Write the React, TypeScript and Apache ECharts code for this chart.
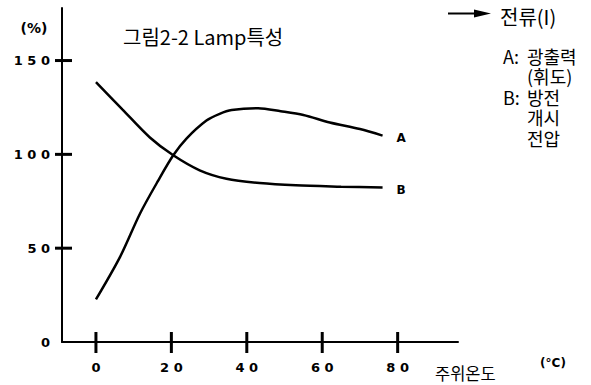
import React, { useEffect, useRef } from "react";
import * as echarts from "echarts";

const xTicks = [0, 20, 40, 60, 80];
const yTicks = [0, 50, 100, 150];
const yTickMarks = [50, 100, 150];

const xA = [0, 6.4, 11.7, 16.5, 20.5, 24, 29.3, 32.8, 36, 43, 49, 55, 62, 70, 76];
const yA = [22.7, 45.4, 68.5, 86, 99.5, 108.4, 118, 121.6, 123.6, 124.6, 123, 121, 117, 113.5, 110];
const xB = [0, 7, 14.3, 20.5, 27.5, 34.6, 43.4, 53, 65, 76];
const yB = [138.5, 124, 109, 99.5, 91.5, 87, 84.7, 83.5, 82.8, 82.3];

const title = "그림2-2 Lamp특성";
const legendPrefix = "A:\n\nB:";
const legendText = "광출력\n(휘도)\n방전\n개시\n전압";
const KR = '"Noto Sans CJK KR", sans-serif';
const NUM = '"DejaVu Sans", sans-serif';
const X_MIN = -9;
const X_MAX = 96;
const Y_MIN = 0;
const Y_MAX = 178;
const GRID = { left: 62, right: 133, top: 8, bottom: 43 };
const W = 591;
const H = 385;

function spaced(v: number) {
  return String(v).split("").join(" ");
}

export default function App() {
  const ref = useRef<HTMLDivElement>(null);
  useEffect(() => {
    if (!ref.current) return;
    const chart = echarts.init(ref.current, undefined, { renderer: "svg" });
    const axisLine = { show: true, onZero: false, lineStyle: { color: "#000", width: 2 } };
    const label = {
      show: true,
      fontFamily: NUM,
      fontWeight: "bold",
      fontSize: 12,
      color: "#000",
      distance: 14,
      offset: [0, 2],
    };
    const kr = (text: string, x: number, y: number, fontSize: number, lineHeight?: number, vAlign = "middle") => ({
      type: "text",
      x,
      y,
      style: {
        text,
        fontFamily: KR,
        fontSize,
        lineHeight: lineHeight || fontSize,
        fill: "#000",
        align: "left",
        verticalAlign: vAlign,
      },
    });

    // crossing tick marks, placed with the same linear mapping the grid uses
    const gw = W - GRID.left - GRID.right;
    const gh = H - GRID.top - GRID.bottom;
    const px = (v: number) => GRID.left + ((v - X_MIN) / (X_MAX - X_MIN)) * gw;
    const py = (v: number) => GRID.top + gh - ((v - Y_MIN) / (Y_MAX - Y_MIN)) * gh;
    const axisY = py(Y_MIN);
    const axisX = px(X_MIN);
    const ticks: any[] = [
      ...xTicks.map((v) => ({
        type: "rect",
        z: 100,
        shape: { x: px(v) - 1.5, y: axisY - 10, width: 3, height: 21 },
        style: { fill: "#000" },
      })),
      ...yTickMarks.map((v) => ({
        type: "rect",
        z: 100,
        shape: { x: axisX - 7, y: py(v) - 1.5, width: 17, height: 3 },
        style: { fill: "#000" },
      })),
    ];

    chart.setOption({
      animation: false,
      backgroundColor: "#fff",
      grid: { ...GRID, containLabel: false },
      xAxis: {
        type: "value",
        min: X_MIN,
        max: X_MAX,
        axisLine,
        splitLine: { show: false },
        axisTick: { show: false },
        axisLabel: {
          customValues: xTicks,
          formatter: (v: number) => spaced(v),
          fontFamily: NUM,
          fontWeight: "bold",
          fontSize: 13,
          color: "#000",
          margin: 19,
        },
      },
      yAxis: {
        type: "value",
        min: Y_MIN,
        max: Y_MAX,
        axisLine,
        splitLine: { show: false },
        axisTick: { show: false },
        axisLabel: {
          customValues: yTicks,
          formatter: (v: number) => spaced(v),
          fontFamily: NUM,
          fontWeight: "bold",
          fontSize: 13,
          color: "#000",
          margin: 12,
        },
      },
      series: [
        {
          type: "line",
          name: "A",
          data: xA.map((x, i) => [x, yA[i]]),
          smooth: 0.3,
          showSymbol: false,
          lineStyle: { color: "#000", width: 2.5 },
          endLabel: { ...label, formatter: "A" },
        },
        {
          type: "line",
          name: "B",
          data: xB.map((x, i) => [x, yB[i]]),
          smooth: 0.3,
          showSymbol: false,
          lineStyle: { color: "#000", width: 2.5 },
          endLabel: { ...label, formatter: "B" },
        },
      ],
      graphic: [
        {
          type: "text",
          x: 34,
          y: 28,
          style: { text: "(%)", fontFamily: NUM, fontWeight: "bold", fontSize: 14, fill: "#000", align: "center", verticalAlign: "middle" },
        },
        kr(title, 123, 36, 20),
        {
          type: "line",
          shape: { x1: 448, y1: 13.5, x2: 478, y2: 13.5 },
          style: { stroke: "#000", lineWidth: 2 },
        },
        {
          type: "polygon",
          shape: { points: [[474, 9.5], [491, 13.5], [474, 17.5]] },
          style: { fill: "#000" },
        },
        kr("전류(I)", 500, 16, 20),
        kr(legendPrefix, 503, 45.5, 18, 20.5, "top"),
        kr(legendText, 527, 45.5, 18, 20.5, "top"),
        kr("주위온도", 435, 373, 16.5),
        {
          type: "text",
          x: 553,
          y: 363,
          style: { text: "(°C)", fontFamily: NUM, fontWeight: "bold", fontSize: 12, fill: "#000", align: "center", verticalAlign: "middle" },
        },
        ...ticks,
      ],
    });

    return () => chart.dispose();
  }, []);
  return (
    <div
      ref={ref}
      style={{ position: "absolute", left: 0, top: 0, width: W, height: H, background: "#fff" }}
    />
  );
}
